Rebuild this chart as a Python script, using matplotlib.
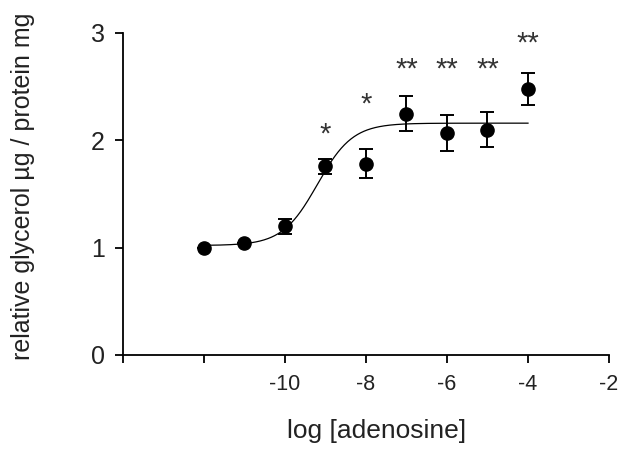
import numpy as np
import matplotlib
matplotlib.use("Agg")
import matplotlib.pyplot as plt

plt.rcParams['font.family'] = ['Liberation Sans', 'DejaVu Sans']

# ---- data ----
log_conc = [-12, -11, -10, -9, -8, -7, -6, -5, -4]
glycerol = [1.00, 1.04, 1.20, 1.76, 1.78, 2.25, 2.07, 2.10, 2.48]
sem = [0.0, 0.0, 0.07, 0.07, 0.135, 0.16, 0.165, 0.165, 0.15]

# fitted sigmoid (dose-response) parameters
fit_bottom = 1.02
fit_top = 2.16
fit_logec50 = -9.2
fit_hill = 1.0

sig_x = [-9, -8, -7, -6, -5, -4]
sig_labels = ['*', '*', '**', '**', '**', '**']
sig_y = [2.05, 2.33, 2.66, 2.66, 2.66, 2.90]

xticks = [-14, -12, -10, -8, -6, -4, -2]
xticklabels = ['', '', '-10', '-8', '-6', '-4', '-2']
yticks = [0, 1, 2, 3]
yticklabels = ['0', '1', '2', '3']

# ---- plot ----
fig = plt.figure(figsize=(6.19, 4.49), dpi=100)
ax = fig.add_axes([123/619, 1-355/449, (609-123)/619, (355-33)/449])

xf = np.linspace(min(log_conc), max(log_conc), 400)
yf = fit_bottom + (fit_top - fit_bottom) / (1 + 10 ** ((fit_logec50 - xf) * fit_hill))
ax.plot(xf, yf, color='black', lw=0.9, zorder=2)

ax.errorbar(log_conc, glycerol, yerr=sem, fmt='o', color='black', ms=9.5,
            ecolor='black', elinewidth=1.4, capsize=4.8, capthick=1.4, zorder=3)

for x, y, s in zip(sig_x, sig_y, sig_labels):
    ax.text(x, y, s, ha='center', va='center', fontsize=21, color='#333333')

ax.set_xlim(-14, -2)
ax.set_ylim(0, 3)
ax.set_xticks(xticks)
ax.set_xticklabels(xticklabels, fontsize=15.5)
ax.set_yticks(yticks)
ax.set_yticklabels(yticklabels, fontsize=18)

for s in ['top', 'right']:
    ax.spines[s].set_visible(False)
for s in ['left', 'bottom']:
    ax.spines[s].set_linewidth(1.3)
ax.tick_params(axis='both', direction='out', width=1.3, length=6, colors='black')
ax.tick_params(axis='y', pad=7)
ax.tick_params(axis='x', pad=8)
for lab in ax.get_xticklabels() + ax.get_yticklabels():
    lab.set_color('#222222')

ax.set_xlabel('log [adenosine]', fontsize=19, color='#222222')
ax.set_ylabel('relative glycerol µg / protein mg', fontsize=18, color='#222222')
ax.xaxis.set_label_coords((377-123)/486, -0.2)
ax.yaxis.set_label_coords((35-123)/486, 0.525)

fig.savefig('out.png', dpi=100)
